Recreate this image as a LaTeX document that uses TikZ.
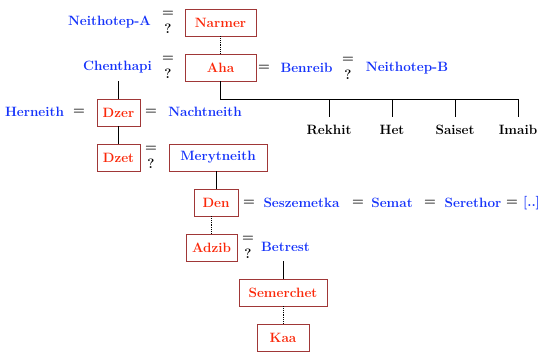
\documentclass[tikz,border=0pt]{standalone}
\usepackage{tikz}
\usetikzlibrary{positioning}
\definecolor{kingred}{RGB}{250,40,10}
\definecolor{queenblue}{RGB}{20,50,250}
\definecolor{frame}{RGB}{160,55,55}
\begin{document}
\begin{tikzpicture}[x=1pt,y=-1pt,
  font=\fontsize{13.5}{16}\selectfont\bfseries,
  king/.style={draw=frame,text=kingred,minimum height=27pt,inner sep=2pt,line width=0.9pt},
  qbox/.style={king,text=queenblue},
  queen/.style={text=queenblue,inner sep=1pt},
  kid/.style={text=black,minimum height=26pt,inner sep=1pt},
  eq/.style={inner sep=0pt},
  eqq/.style={align=center,inner sep=0pt,font=\fontsize{13.5}{17}\selectfont\bfseries},
  rel/.style={line width=0.8pt},
  maybe/.style={line width=0.8pt,densely dotted}]
\useasboundingbox (0,0) rectangle (546,353);
% ---------- kings ----------
\node[king,minimum width=71pt] (narmer) at (220.5,22.5) {Narmer};
\node[king,minimum width=71pt] (aha) at (220.5,67.5) {Aha};
\node[king,minimum width=43pt] (dzer) at (118.5,112.5) {Dzer};
\node[king,minimum width=43pt] (dzet) at (118.5,157.5) {Dzet};
\node[qbox,minimum width=98pt] (meryt) at (218,157.5) {Merytneith};
\node[king,minimum width=44pt] (den) at (216,202.5) {Den};
\node[king,minimum width=51pt] (adzib) at (211.5,247.5) {Adzib};
\node[king,minimum width=88pt] (semer) at (283,292.5) {Semerchet};
\node[king,minimum width=52pt] (kaa) at (283,337.5) {Kaa};
% ---------- wives ----------
\node[queen] (neithA) at (109.5,22) {Neithotep-A};
\node[queen] (chent) at (117.5,67) {Chenthapi};
\node[queen] (benr) at (306.5,68) {Benreib};
\node[queen] (neithB) at (407,68) {Neithotep-B};
\node[queen] (hern) at (34.5,112) {Herneith};
\node[queen] (nacht) at (205,112) {Nachtneith};
\node[queen] (sesz) at (301.5,203) {Seszemetka};
\node[queen] (semat) at (392,203) {Semat};
\node[queen] (sereth) at (473,203) {Serethor};
\node[queen] (more) at (531.5,203) {[..]};
\node[queen] (betr) at (285.5,247) {Betrest};
% ---------- marriages ----------
\node[eqq] (m1) at (168,22) {=\\?};
\node[eqq] (m2) at (168,67) {=\\?};
\node[eq] (m3) at (264,68) {=};
\node[eqq] (m4) at (348,68) {=\\?};
\node[eq] (m5) at (79,112) {=};
\node[eq] (m6) at (151,112) {=};
\node[eqq] (m7) at (151,157) {=\\?};
\node[eq] (m8) at (249,203) {=};
\node[eq] (m9) at (358,203) {=};
\node[eq] (m10) at (430,203) {=};
\node[eq] (m11) at (512,203) {=};
\node[eqq] (m12) at (248,247) {=\\?};
% ---------- children of Aha ----------
\node[kid] (rekhit) at (329,130) {Rekhit};
\node[kid] (het) at (392,130) {Het};
\node[kid] (saiset) at (455,130) {Saiset};
\node[kid] (imaib) at (518,130) {Imaib};
\coordinate (bar) at (0,99);
% ---------- descent ----------
\draw[maybe] (narmer.south) -- (aha.north);
\draw[rel] (aha.south) |- (imaib.north |- bar) -- (imaib.north);
\foreach \k in {rekhit,het,saiset}
  \draw[rel] (\k.north |- bar) -- (\k.north);
\draw[rel] (dzer.north |- aha.south) -- (dzer.north);
\draw[rel] (dzer.south) -- (dzet.north);
\draw[rel] (den.north |- meryt.south) -- (den.north);
\draw[maybe] (adzib.north |- den.south) -- (adzib.north);
\draw[rel] (semer.north |- adzib.south) -- (semer.north);
\draw[maybe] (semer.south) -- (kaa.north);
\end{tikzpicture}
\end{document}
